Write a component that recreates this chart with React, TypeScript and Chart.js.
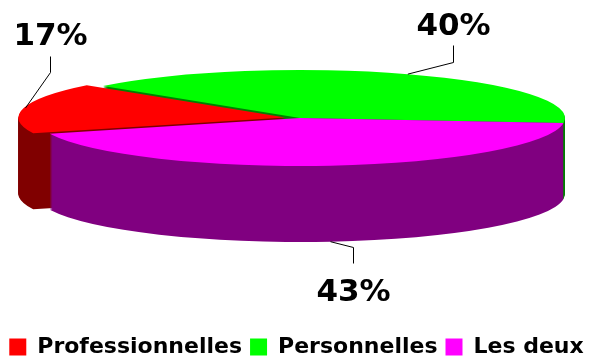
import React, { useEffect, useRef } from 'react';
import { Chart, registerables } from 'chart.js';

Chart.register(...registerables);

// ---- data ----
const categories = ['Professionnelles', 'Personnelles', 'Les deux'];
const shares = [17, 40, 43];
const topColors = ['#FF0000', '#00FF00', '#FF00FF'];
const sideColors = ['#800000', '#008000', '#800080'];

// ---- 3D projection / layout settings ----
const PIE = {
  cx: 300,
  cy: 118,
  rx: 265,
  ry: 48,
  depth: 76,
  baseRadius: 100,
  explodePx: 15,
  rotation: 250.8,
};
const EXPLODE = [PIE.explodePx, 0, 0];
// leader line geometry: elbow offset from anchor, vertical segment length, gap to text baseline
const LEADERS = [
  { dx: 24, dy: -36, len: 16, gap: 12, dir: -1 },
  { dx: 45, dy: -12, len: 17, gap: 11, dir: -1 },
  { dx: 23, dy: 5, len: 16, gap: 37, dir: 1 },
];
const FONT = 'DejaVu Sans';

function projection(chart: any) {
  const meta = chart.getDatasetMeta(0);
  const arcs = meta.data as any[];
  if (!arcs.length) return null;
  const a0 = arcs[0];
  const sx = PIE.rx / a0.outerRadius;
  const sy = PIE.ry / a0.outerRadius;
  return { arcs, ox: a0.x, oy: a0.y, sx, sy };
}

const pie3d = {
  id: 'pie3d',
  beforeDatasetsDraw(chart: any) {
    const p = projection(chart);
    const ctx = chart.ctx;
    ctx.save();
    if (!p) return;
    ctx.translate(PIE.cx, PIE.cy);
    ctx.scale(p.sx, p.sy);
    ctx.translate(-p.ox, -p.oy);
    for (let d = PIE.depth; d >= 1; d--) {
      ctx.save();
      ctx.translate(0, d / p.sy);
      p.arcs.forEach((arc: any, i: number) => {
        const fake = Object.create(arc);
        fake.options = { ...arc.options, backgroundColor: sideColors[i], borderWidth: 0 };
        arc.constructor.prototype.draw.call(fake, ctx);
      });
      ctx.restore();
    }
  },
  afterDatasetsDraw(chart: any) {
    chart.ctx.restore();
  },
  afterDraw(chart: any) {
    const p = projection(chart);
    if (!p) return;
    const ctx = chart.ctx;
    const total = shares.reduce((s, v) => s + v, 0);
    ctx.save();
    ctx.strokeStyle = '#000';
    ctx.lineWidth = 1;
    ctx.fillStyle = '#000';
    ctx.font = `bold 31px "${FONT}"`;
    ctx.textAlign = 'center';
    ctx.textBaseline = 'alphabetic';
    p.arcs.forEach((arc: any, i: number) => {
      const mid = (arc.startAngle + arc.endAngle) / 2;
      const off = (arc.options.offset || 0) / 4;
      const ux = p.ox + Math.cos(mid) * (arc.outerRadius + off);
      const uy = p.oy + Math.sin(mid) * (arc.outerRadius + off);
      let ax = PIE.cx + (ux - p.ox) * p.sx;
      let ay = PIE.cy + (uy - p.oy) * p.sy;
      if (Math.sin(mid) > 0.5) ay += PIE.depth;
      const L = LEADERS[i];
      const ex = Math.round(ax + L.dx) + 0.5;
      const ey = Math.round(ay + L.dy) + 0.5;
      const vy = ey + L.dir * L.len;
      ctx.beginPath();
      ctx.moveTo(ax, ay);
      ctx.lineTo(ex, ey);
      ctx.lineTo(ex, vy);
      ctx.stroke();
      const pct = Math.round((shares[i] / total) * 100) + '%';
      ctx.fillText(pct, ex, vy + L.dir * L.gap);
    });
    ctx.restore();
  },
};

export default function App() {
  const ref = useRef<HTMLCanvasElement>(null);
  useEffect(() => {
    if (!ref.current) return;
    const sx = PIE.rx / PIE.baseRadius;
    const chart = new Chart(ref.current, {
      type: 'pie',
      data: {
        labels: categories,
        datasets: [
          {
            data: shares,
            backgroundColor: topColors,
            borderWidth: 0,
            offset: EXPLODE.map((e) => (4 * e) / sx),
            hoverOffset: 0,
            clip: false,
          } as any,
        ],
      },
      options: {
        responsive: false,
        devicePixelRatio: 1,
        animation: false,
        events: [],
        rotation: PIE.rotation,
        radius: PIE.baseRadius,
        layout: { padding: { bottom: -8 } },
        plugins: {
          tooltip: { enabled: false },
          legend: {
            position: 'bottom',
            labels: {
              boxWidth: 17,
              boxHeight: 17,
              padding: 8,
              color: '#000',
              font: { family: FONT, size: 22, weight: 'bold' },
            },
          },
        },
      } as any,
      plugins: [pie3d],
    });
    return () => chart.destroy();
  }, []);
  return (
    <div style={{ position: 'fixed', left: 0, top: 0, width: 593, height: 360, background: '#fff' }}>
      <canvas ref={ref} width={593} height={360} style={{ display: 'block' }} />
    </div>
  );
}
